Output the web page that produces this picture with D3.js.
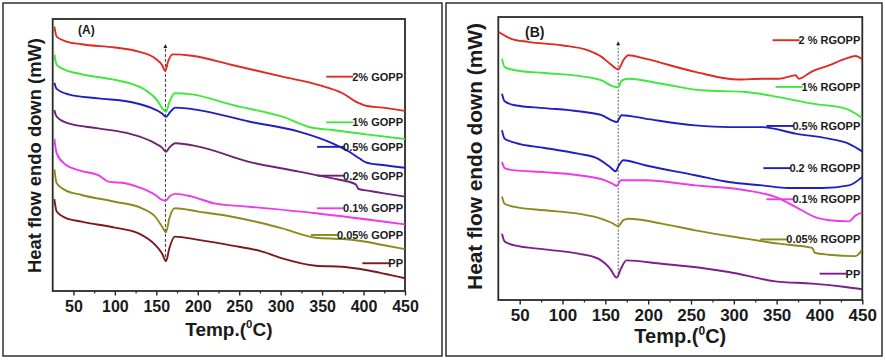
<!DOCTYPE html>
<html>
<head>
<meta charset="utf-8">
<script src="https://cdn.jsdelivr.net/npm/d3@7"></script>
<style>
	body { margin: 0; background: #fff; }
	svg text { font-family: Arial, "Liberation Sans", sans-serif; font-weight: bold; fill: #1a1a1a; }
</style>
</head>
<body>
<div id="chart-area"></div>
<script>
// DSC heating curves, [temperature (C), heat flow (a.u., endo down)]
const gopp2 = [[27,97.2],[29.8,93.5],[39.9,91.9],[60,90.7],[100,89.5],[128.6,88.0],[148.8,85.5],[156.9,83.1],[160.9,80.9],[164.1,84.3],[169.8,87.0],[193,86.5],[241.5,83.1],[302,78.8],[346.4,75.7],[374.6,72.7],[390.7,69.6],[402.8,68.1],[423,67.4],[450,66.2]]
const gopp1 = [[27,87.0],[29.8,83.1],[39.9,81.3],[60,79.7],[100,77.6],[118.5,76.3],[136.7,73.9],[150.8,70.2],[158.9,66.5],[161.7,65.9],[165.7,69.4],[172.2,72.7],[193,72.3],[241.5,68.4],[302,64.1],[338.3,60.0],[362.5,59.2],[402.8,57.6],[450,55.9]]
const gopp05 = [[27,76.6],[29.8,74.3],[44,72.3],[80,70.8],[120.6,69.4],[144.8,67.2],[156.9,65.3],[161.7,64.0],[166.9,65.9],[173,67.4],[201,66.5],[261.7,62.3],[322,58.6],[362.5,54.3],[382.7,51.2],[394.8,48.8],[402.8,47.3],[423,46.3],[450,45.3]]
const gopp02 = [[27,66.5],[29.8,64.1],[44,61.6],[80,59.8],[120.6,57.6],[144.8,54.9],[156.9,52.7],[161.7,51.2],[165.7,52.7],[173,54.3],[201,53.1],[261.7,47.5],[322,43.9],[362.5,41.4],[390.7,39.2],[393.9,37.5],[406.9,36.8],[450,34.7]]
const gopp01 = [[27,55.9],[29.8,50.6],[39.9,46.6],[60,44.1],[80,42.6],[92.3,40.2],[112.5,39.6],[132.7,37.7],[148.8,35.3],[156.9,33.5],[161.7,33.3],[165.7,34.7],[173,35.7],[193,34.7],[221.4,32.1],[261.7,31.0],[342.3,28.6],[450,24.5]]
const gopp005 = [[27,44.7],[29.8,39.6],[39.9,37.1],[60,35.3],[100,32.8],[132.7,30.4],[148.8,27.3],[156.9,23.7],[161.7,21.6],[165.7,26.7],[172.2,30.4],[201,29.2],[241.5,27.3],[277.8,24.9],[302,23.0],[342.3,19.6],[374.6,19.1],[402.8,18.1],[423,16.9],[450,15.4]]
const ppA = [[27,33.8],[29.8,29.2],[39.9,27.0],[60,25.5],[100,23.3],[128.6,21.2],[148.8,16.9],[156.9,13.8],[161.7,11.0],[165.7,15.7],[172.2,20.0],[201,18.8],[241.5,16.7],[277.8,14.5],[302,12.0],[342.3,9.3],[374.6,8.9],[402.8,7.7],[423,6.5],[450,4.7]]

const rgopp2 = [[25.4,94.7],[40.2,92.3],[59.8,91.2],[98.8,90.0],[130,88.2],[145.6,85.9],[155.4,83.5],[165.1,81.5],[171,84.7],[176.8,86.5],[196.3,85.3],[254.9,80.6],[305.6,77.9],[332.9,78.2],[352.4,78.2],[368,79.2],[372,79.4],[375.9,78.2],[391.5,80.8],[411,82.9],[430.5,85.3],[442.2,86.2],[450,85.0]]
const rgopp1 = [[29.3,85.3],[32.4,82.3],[44.1,81.2],[79.3,80.2],[118.3,79.2],[145.6,77.6],[158.1,75.6],[165.1,75.2],[169,77.5],[176.8,78.2],[215.9,76.4],[262.7,74.1],[313.4,73.5],[352.4,71.7],[391.5,69.4],[430.5,67.6],[450,64.3]]
const rgopp05 = [[29.3,72.9],[32.4,70.2],[44.1,68.8],[79.3,67.8],[118.3,66.7],[145.6,65.3],[157.3,63.5],[163.2,62.9],[169,65.3],[196.3,64.1],[254.9,61.7],[293.9,61.1],[332.9,61.1],[372,58.8],[411,57.0],[434.4,55.2],[450,52.5]]
const rgopp02 = [[29.3,60.0],[32.4,57.0],[44.1,55.6],[79.3,53.7],[118.3,51.7],[141.7,49.9],[155.4,47.0],[162,45.5],[165.9,47.6],[171,49.4],[196.3,47.6],[254.9,44.1],[293.9,41.7],[332.9,40.5],[364.1,39.6],[403.2,39.6],[434.4,40.5],[450,43.5]]
const rgopp01 = [[29.3,48.8],[32.4,46.6],[44.1,45.8],[79.3,45.2],[118.3,44.1],[149.5,42.3],[158.1,41.1],[163.2,40.3],[168.2,42.3],[196.3,42.3],[254.9,40.5],[313.4,38.8],[348.5,36.4],[372,32.9],[397.3,29.0],[411,28.2],[434.4,27.8],[442.2,29.9],[450,30.9]]
const rgopp005 = [[29.3,36.6],[32.4,34.0],[44.1,32.9],[79.3,31.7],[118.3,30.5],[145.6,28.7],[157.3,27.3],[165.1,26.1],[171,28.2],[176.8,28.7],[215.9,27.0],[254.9,24.6],[313.4,21.7],[352.4,19.9],[391.5,18.4],[394.6,16.7],[411,16.0],[442.2,15.5],[450,17.9]]
const ppB = [[29.3,23.4],[32.4,20.7],[44.1,19.3],[79.3,17.9],[118.3,16.4],[141.7,14.6],[155.4,11.1],[163.2,7.9],[168.2,11.1],[174.8,14.0],[215.9,12.8],[262.7,11.3],[293.9,9.9],[348.5,6.6],[391.5,5.8],[430.5,4.6],[450,3.8]]

const namesA = ["2% GOPP", "1% GOPP", "0.5% GOPP", "0.2% GOPP", "0.1% GOPP", "0.05% GOPP", "PP"]
const namesB = ["2 % RGOPP", "1% RGOPP", "0.5% RGOPP", "0.2 % RGOPP", "0.1% RGOPP", "0.05% RGOPP", "PP"]
const colorsA = ["#e02a22", "#3fe83a", "#1f1fc4", "#6e2177", "#ee3ae8", "#8c8a1c", "#7c1a1a"]
const colorsB = ["#e02a22", "#3fe83a", "#1f1fc4", "#1f1fc4", "#ee3ae8", "#8c8a1c", "#7e1e8c"]
const majorTicks = [50, 100, 150, 200, 250, 300, 350, 400, 450]
const minorTicks = [75, 125, 175, 225, 275, 325, 375, 425]
const peakA = 161
const peakB = 165

const svg = d3.select("#chart-area").append("svg")
	.attr("width", 886)
	.attr("height", 361)

const defs = svg.append("defs")
defs.append("marker")
	.attr("id", "arrow")
	.attr("viewBox", "0 0 6 6")
	.attr("refX", 3).attr("refY", 6)
	.attr("markerWidth", 4).attr("markerHeight", 5)
	.attr("markerUnits", "userSpaceOnUse")
	.attr("orient", "0")
	.append("path")
	.attr("d", "M0,6 L3,0 L6,6 Z")
	.attr("fill", "#222")

class DscPanel {

	constructor(id, opts) {
		this.o = opts
		const o = opts
		// outer frame
		svg.append("rect")
			.attr("x", o.frame[0]).attr("y", o.frame[1])
			.attr("width", o.frame[2] - o.frame[0]).attr("height", o.frame[3] - o.frame[1])
			.attr("fill", "none").attr("stroke", "#222").attr("stroke-width", 1.4)

		this.x = d3.scaleLinear().domain([25, 450]).range([o.left, o.right])
		this.y = d3.scaleLinear().domain([0, 100]).range([o.bottom, o.top])

		defs.append("clipPath").attr("id", "clip" + id)
			.append("rect")
			.attr("x", o.left).attr("y", o.top)
			.attr("width", o.right - o.left).attr("height", o.bottom - o.top)

		this.g = svg.append("g")
		this._addAxis()
		this._addLabels()
	}

	_addAxis() {
		const o = this.o
		const major = this.g.append("g")
			.attr("class", "x axis")
			.attr("transform", `translate(0, ${o.bottom})`)
			.call(d3.axisBottom(this.x).tickValues(majorTicks).tickSize(4.5).tickPadding(o.pad))
		major.select(".domain").remove()
		major.selectAll("line").attr("stroke", "#222").attr("stroke-width", 1.4)
		major.selectAll("text").attr("font-size", o.tickFont + "px")
			.attr("font-family", "Arial, 'Liberation Sans', sans-serif")
			.attr("fill", "#1a1a1a")

		const minor = this.g.append("g")
			.attr("transform", `translate(0, ${o.bottom})`)
			.call(d3.axisBottom(this.x).tickValues(minorTicks).tickSize(2.5).tickFormat(""))
		minor.select(".domain").remove()
		minor.selectAll("line").attr("stroke", "#222").attr("stroke-width", 1.2)

		this.g.append("rect")
			.attr("x", o.left).attr("y", o.top)
			.attr("width", o.right - o.left).attr("height", o.bottom - o.top)
			.attr("fill", "none").attr("stroke", "#2a2a2a").attr("stroke-width", 1.8)
	}

	_addLabels() {
		const o = this.o
		const t = this.g.append("text")
			.attr("x", (o.left + o.right) / 2)
			.attr("y", o.tempY)
			.attr("font-size", o.axisFont + "px")
			.attr("text-anchor", "middle")
		t.append("tspan").text("Temp.(")
		t.append("tspan").attr("font-size", (o.axisFont * 0.6) + "px").attr("dy", -o.axisFont * 0.42).text("0")
		t.append("tspan").attr("dy", o.axisFont * 0.42).text("C)")

		this.g.append("text")
			.attr("transform", `translate(${o.yLabelX}, ${o.yLabelY}) rotate(-90)`)
			.attr("font-size", o.yFont + "px")
			.attr("text-anchor", "middle")
			.text("Heat flow endo down (mW)")

		this.g.append("text")
			.attr("x", o.tag[1]).attr("y", o.tag[2])
			.attr("font-size", o.tag[3] + "px")
			.text(o.tag[0])
	}

	setData(series, names, colors, legendV, peak, peakV) {
		const x = this.x, y = this.y, o = this.o
		const line = d3.line()
			.x(d => x(d[0]))
			.y(d => y(d[1]))
			.curve(d3.curveMonotoneX)

		this.g.append("line")
			.attr("x1", x(peak)).attr("x2", x(peak))
			.attr("y1", y(peakV[0])).attr("y2", y(peakV[1]))
			.attr("stroke", "#333").attr("stroke-width", o.dashW)
			.attr("stroke-dasharray", o.dash)
			.attr("marker-end", "url(#arrow)")

		this.g.append("g")
			.attr("clip-path", `url(#clip${o.id})`)
			.selectAll("path")
			.data(series)
			.enter().append("path")
			.attr("d", line)
			.attr("fill", "none")
			.attr("stroke", (d, i) => colors[i])
			.attr("stroke-width", 1.9)
			.attr("stroke-linejoin", "round")

		const leg = this.g.append("g")
		names.forEach((n, i) => {
			const ty = y(legendV[i])
			const txt = leg.append("text")
				.attr("x", o.right - 2)
				.attr("y", ty + 4)
				.attr("font-size", "11px")
				.attr("text-anchor", "end")
				.text(n)
			const w = txt.node().getComputedTextLength()
			const x2 = o.right - 2 - w + 1
			leg.insert("line", "text")
				.attr("x1", x2 - 27).attr("x2", x2)
				.attr("y1", ty).attr("y2", ty)
				.attr("stroke", colors[i]).attr("stroke-width", 1.9)
		})
	}
}

const panelA = new DscPanel("A", {
	id: "A", frame: [3, 3, 442, 356],
	left: 52.7, right: 405, top: 19, bottom: 291,
	pad: 5.3, tickFont: 16, axisFont: 19, tempY: 336,
	yFont: 18.4, yLabelX: 41, yLabelY: 155.5,
	tag: ["(A)", 78, 34, 12], dash: "3,2", dashW: 1
})
const panelB = new DscPanel("B", {
	id: "B", frame: [446, 3, 882, 356],
	left: 498.3, right: 862.3, top: 17, bottom: 300,
	pad: 4.6, tickFont: 17, axisFont: 20, tempY: 343,
	yFont: 20.9, yLabelX: 482, yLabelY: 156.5,
	tag: ["(B)", 525, 37, 14], dash: "2,1.5", dashW: 0.8
})

panelA.setData([gopp2, gopp1, gopp05, gopp02, gopp01, gopp005, ppA], namesA, colorsA,
	[78.8, 62.0, 53.0, 42.4, 30.4, 20.6, 10.2], peakA, [10.7, 89.3])
panelB.setData([rgopp2, rgopp1, rgopp05, rgopp02, rgopp01, rgopp005, ppB], namesB, colorsB,
	[91.8, 75.3, 61.5, 46.6, 35.6, 21.4, 9.3], peakB, [8.1, 90])
</script>
</body>
</html>
